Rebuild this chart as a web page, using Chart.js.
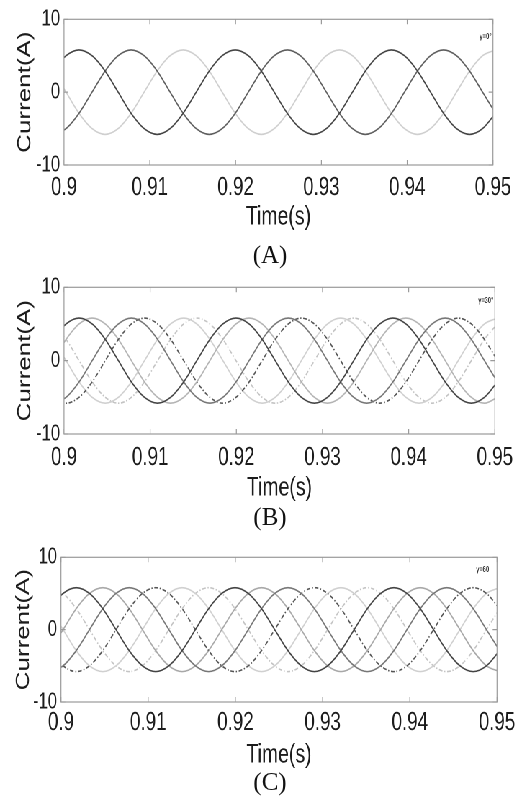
<!DOCTYPE html>
<html>
<head>
<meta charset="utf-8">
<script src="https://cdn.jsdelivr.net/npm/chart.js@4.4.1/dist/chart.umd.min.js"></script>
<style>
  html, body { margin: 0; padding: 0; background: #fff; }
  body { width: 519px; height: 802px; position: relative; overflow: hidden; }
  /* the source figure is squeezed sideways, so the charts are drawn wide and squeezed too */
  #wrap { position: absolute; left: 0; top: 0; width: 721px; height: 802px; transform: scaleX(0.72); transform-origin: 0 0; }
  #wrap canvas { position: absolute; left: 0; }
  .cap { position: absolute; left: 210px; width: 120px; text-align: center; line-height: 30px;
         font: 25px 'Liberation Serif', 'Times New Roman', serif; color: #111; }
</style>
</head>
<body>
<div id="wrap">
  <canvas id="chartA"></canvas>
  <canvas id="chartB"></canvas>
  <canvas id="chartC"></canvas>
</div>
<div class="cap" style="top:241px">(A)</div>
<div class="cap" style="top:503px">(B)</div>
<div class="cap" style="top:768px">(C)</div>

<script>
// sample times (s), one every 30 degrees of the waveform
const TIME = [0.89872, 0.90024, 0.90175, 0.90327, 0.90479, 0.90631, 0.90782, 0.90934, 0.91086,
  0.91237, 0.91389, 0.91541, 0.91693, 0.91844, 0.91996, 0.92148, 0.92300, 0.92451, 0.92603,
  0.92755, 0.92906, 0.93058, 0.93210, 0.93362, 0.93513, 0.93665, 0.93817, 0.93968, 0.94120,
  0.94272, 0.94424, 0.94575, 0.94727, 0.94879, 0.95030];

// first three-phase set (same in all panels)
const IA = [2.9,5.0, 5.8,5.0,2.9,0,-2.9,-5.0,-5.8,-5.0,-2.9,0,2.9,5.0, 5.8,5.0,2.9,0,-2.9,-5.0,-5.8,-5.0,-2.9,0,2.9,5.0, 5.8,5.0,2.9,0,-2.9,-5.0,-5.8,-5.0,-2.9];
const IB = [-5.8,-5.0,-2.9,0,2.9,5.0, 5.8,5.0,2.9,0,-2.9,-5.0,-5.8,-5.0,-2.9,0,2.9,5.0, 5.8,5.0,2.9,0,-2.9,-5.0,-5.8,-5.0,-2.9,0,2.9,5.0, 5.8,5.0,2.9,0,-2.9];
const IC = [2.9,0,-2.9,-5.0,-5.8,-5.0,-2.9,0,2.9,5.0, 5.8,5.0,2.9,0,-2.9,-5.0,-5.8,-5.0,-2.9,0,2.9,5.0, 5.8,5.0,2.9,0,-2.9,-5.0,-5.8,-5.0,-2.9,0,2.9,5.0, 5.8];

// second set, gamma = 30 deg
const IA30 = [0,2.9,5.0, 5.8,5.0,2.9,0,-2.9,-5.0,-5.8,-5.0,-2.9,0,2.9,5.0, 5.8,5.0,2.9,0,-2.9,-5.0,-5.8,-5.0,-2.9,0,2.9,5.0, 5.8,5.0,2.9,0,-2.9,-5.0,-5.8,-5.0];
const IB30 = [-5.0,-5.8,-5.0,-2.9,0,2.9,5.0, 5.8,5.0,2.9,0,-2.9,-5.0,-5.8,-5.0,-2.9,0,2.9,5.0, 5.8,5.0,2.9,0,-2.9,-5.0,-5.8,-5.0,-2.9,0,2.9,5.0, 5.8,5.0,2.9,0];
const IC30 = [5.0,2.9,0,-2.9,-5.0,-5.8,-5.0,-2.9,0,2.9,5.0, 5.8,5.0,2.9,0,-2.9,-5.0,-5.8,-5.0,-2.9,0,2.9,5.0, 5.8,5.0,2.9,0,-2.9,-5.0,-5.8,-5.0,-2.9,0,2.9,5.0];

// second set, gamma = 60 deg
const IA60 = [-2.9,0,2.9,5.0, 5.8,5.0,2.9,0,-2.9,-5.0,-5.8,-5.0,-2.9,0,2.9,5.0, 5.8,5.0,2.9,0,-2.9,-5.0,-5.8,-5.0,-2.9,0,2.9,5.0, 5.8,5.0,2.9,0,-2.9,-5.0,-5.8];
const IB60 = [-2.9,-5.0,-5.8,-5.0,-2.9,0,2.9,5.0, 5.8,5.0,2.9,0,-2.9,-5.0,-5.8,-5.0,-2.9,0,2.9,5.0, 5.8,5.0,2.9,0,-2.9,-5.0,-5.8,-5.0,-2.9,0,2.9,5.0, 5.8,5.0,2.9];
const IC60 = [5.8,5.0,2.9,0,-2.9,-5.0,-5.8,-5.0,-2.9,0,2.9,5.0, 5.8,5.0,2.9,0,-2.9,-5.0,-5.8,-5.0,-2.9,0,2.9,5.0, 5.8,5.0,2.9,0,-2.9,-5.0,-5.8,-5.0,-2.9,0,2.9];

const GAMMA = ['γ=0°', 'γ=30°', 'γ=60'];

const FONT = "'Liberation Sans', Arial, sans-serif";
const INK = '#1c1c1c';

function pts(vals) {
  return TIME.map(function (t, i) { return { x: t, y: vals[i] }; });
}

function serie(vals, color, dash) {
  return {
    data: pts(vals),
    borderColor: color,
    borderWidth: 1.6,
    borderDash: dash || [],
    pointRadius: 0,
    cubicInterpolationMode: 'monotone',
    fill: false
  };
}

// box round the plot, small inward ticks, and the gamma note
const framePlugin = {
  id: 'frame',
  afterDatasetsDraw(chart, args, opts) {
    const ctx = chart.ctx, a = chart.chartArea, x = chart.scales.x, y = chart.scales.y;
    ctx.save();
    ctx.strokeStyle = '#9a9a9a';
    ctx.lineWidth = 1.2;
    ctx.strokeRect(a.left, a.top, a.right - a.left, a.bottom - a.top);
    ctx.beginPath();
    x.ticks.forEach(function (t) {
      const px = x.getPixelForValue(t.value);
      ctx.moveTo(px, a.bottom); ctx.lineTo(px, a.bottom - 5);
      ctx.moveTo(px, a.top); ctx.lineTo(px, a.top + 5);
    });
    y.ticks.forEach(function (t) {
      const py = y.getPixelForValue(t.value);
      ctx.moveTo(a.left, py); ctx.lineTo(a.left + 6, py);
      ctx.moveTo(a.right, py); ctx.lineTo(a.right - 6, py);
    });
    ctx.stroke();
    ctx.fillStyle = '#333';
    ctx.font = 'bold 8px ' + FONT;
    ctx.textAlign = 'right';
    ctx.textBaseline = 'middle';
    ctx.fillText(opts.text, a.right - opts.dx, a.top + opts.dy);
    ctx.restore();
  }
};

const DASH = [5, 2.5, 1.5, 2.5];

const panels = [
  { id: 'chartA', top: 0,   height: 235, yWidth: 78.9, right: 36.3, xHeight: 70, tickPad: 7.4, yTitlePad: 9, dx: 2,  dy: 17.5,
    sets: [[IA, '#444444'], [IB, '#5e5e5e'], [IC, '#cfcfcf']] },
  { id: 'chartB', top: 268, height: 238, yWidth: 78.9, right: 32.1, xHeight: 72, tickPad: 8.4, yTitlePad: 9, dx: 2,  dy: 13.5,
    sets: [[IA, '#444444'], [IB, '#777777'], [IB30, '#555555', DASH], [IA30, '#b4b4b4'], [IC, '#d0d0d0'], [IC30, '#c4c4c4', DASH]] },
  { id: 'chartC', top: 538, height: 235, yWidth: 74.7, right: 29.3, xHeight: 71, tickPad: 5.4, yTitlePad: 7, dx: 11, dy: 12.5,
    sets: [[IA, '#444444'], [IB, '#777777'], [IB60, '#555555', DASH], [IA60, '#a8a8a8'], [IC, '#d0d0d0'], [IC60, '#c4c4c4', DASH]] }
];

panels.forEach(function (p, n) {
  const cv = document.getElementById(p.id);
  cv.style.top = p.top + 'px';
  cv.style.width = '721px';
  cv.style.height = p.height + 'px';
  cv.width = 721;
  cv.height = p.height;

  new Chart(cv, {
    type: 'line',
    data: {
      datasets: p.sets.map(function (s) { return serie(s[0], s[1], s[2]); })
    },
    options: {
      responsive: false,
      devicePixelRatio: 2,
      animation: false,
      layout: { padding: { top: 15, left: 10, right: p.right, bottom: 0 } },
      plugins: {
        legend: { display: false },
        tooltip: { enabled: false },
        frame: { text: GAMMA[n], dx: p.dx, dy: p.dy }
      },
      scales: {
        x: {
          type: 'linear', min: 0.9, max: 0.95,
          grid: { display: false, drawTicks: false },
          border: { display: false },
          ticks: {
            stepSize: 0.01, padding: p.tickPad, color: INK, maxRotation: 0,
            font: { family: FONT, size: 26 },
            callback: function (v) { return String(Math.round(v * 100) / 100); }
          },
          title: { display: true, text: 'Time(s)', color: INK, font: { family: FONT, size: 27 }, padding: { top: 0, bottom: 1.8 } },
          afterFit: function (s) { s.height = p.xHeight; }
        },
        y: {
          min: -10, max: 10,
          grid: { display: false, drawTicks: false },
          border: { display: false },
          ticks: { stepSize: 10, padding: 5.5, color: INK, font: { family: FONT, size: 23 } },
          title: { display: true, text: 'Current(A)', color: INK, font: { family: FONT, size: 26 }, padding: { top: p.yTitlePad, bottom: 0 } },
          afterFit: function (s) { s.width = p.yWidth; }
        }
      }
    },
    plugins: [framePlugin]
  });
});
</script>
</body>
</html>
